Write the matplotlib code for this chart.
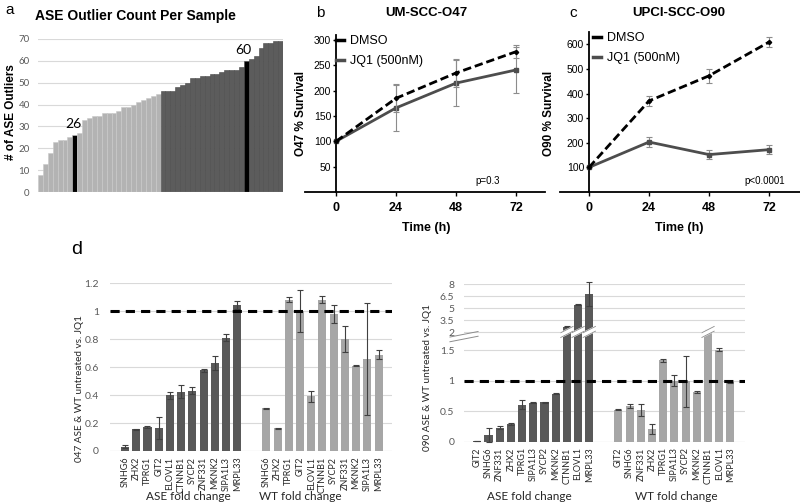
import numpy as np
import matplotlib
matplotlib.use("Agg")
import matplotlib.pyplot as plt
from matplotlib.lines import Line2D
from matplotlib.transforms import blended_transform_factory

W, H = 800, 503
ARIAL = "Liberation Sans"
CALIBRI = "Lato"

# ---- panel a: ASE outlier counts (sorted) ----
ase_counts_light = [8, 13, 18, 23, 24, 24, 25, 26, 27, 33, 34, 35, 35, 36, 36, 36, 37,
                    39, 39, 40, 41, 42, 43, 44, 45]
ase_counts_dark = [46, 46, 46, 48, 49, 50, 52, 52, 53, 53, 54, 54, 55, 56, 56, 56, 57,
                   60, 61, 62, 66, 68, 68, 69, 69]
highlight_light = 7    # O47 -> 26
highlight_dark = 17    # O90 -> 60

# ---- panel b / c: survival ----
hours = [0, 24, 48, 72]
o47_dmso = [100, 185, 235, 277]
o47_dmso_err = [0, 28, 27, 13]
o47_jq1 = [100, 166, 215, 241]
o47_jq1_err = [0, 46, 45, 45]
o90_dmso = [100, 370, 472, 609]
o90_dmso_err = [0, 20, 28, 20]
o90_jq1 = [100, 203, 152, 172]
o90_jq1_err = [0, 20, 17, 17]

# ---- panel d left: 047 fold change ----
o47_ase_genes = ["SNHG6", "ZHX2", "TPRG1", "GIT2", "ELOVL1", "CTNNB1", "SYCP2",
                 "ZNF331", "MKNK2", "SIPA1L3", "MRPL33"]
o47_ase_vals = [0.031, 0.155, 0.17, 0.165, 0.40, 0.425, 0.43, 0.577, 0.627, 0.81, 1.043]
o47_ase_err = [0.01, 0.005, 0.006, 0.08, 0.025, 0.047, 0.025, 0.01, 0.05, 0.025, 0.03]
o47_wt_genes = o47_ase_genes
o47_wt_vals = [0.306, 0.163, 1.084, 1.0, 0.39, 1.084, 0.983, 0.80, 0.61, 0.658, 0.69]
o47_wt_err = [0.005, 0.004, 0.015, 0.15, 0.04, 0.025, 0.065, 0.095, 0.005, 0.4, 0.033]

# ---- panel d right: 090 fold change ----
o90_genes = ["GIT2", "SNHG6", "ZNF331", "ZHX2", "TPRG1", "SIPA1L3", "SYCP2",
             "MKNK2", "CTNNB1", "ELOVL1", "MRPL33"]
o90_ase_vals = [0.005, 0.11, 0.23, 0.29, 0.607, 0.64, 0.645, 0.787, 2.67, 5.42, 6.8]
o90_ase_err = [0.0, 0.11, 0.02, 0.02, 0.07, 0.005, 0.01, 0.01, 0.05, 0.05, 1.5]
o90_wt_vals = [0.524, 0.588, 0.524, 0.214, 1.33, 1.0, 0.99, 0.818, 2.2, 1.508, 0.963]
o90_wt_err = [0.005, 0.03, 0.1, 0.08, 0.02, 0.09, 0.42, 0.015, 0.02, 0.03, 0.01]
o90_ticks = [0, 0.5, 1, 1.5, 2, 3.5, 5, 6.5, 8]

DARK = "#595959"
LIGHT = "#a6a6a6"


def rect(left, top, right, bottom):
    return [left / W, 1 - bottom / H, (right - left) / W, (bottom - top) / H]


fig = plt.figure(figsize=(8, 5.03), dpi=100)

# ================= panel a =================
ax = fig.add_axes(rect(38, 39, 283, 192))
n1, n2 = len(ase_counts_light), len(ase_counts_dark)
x1 = np.arange(n1)
x2 = np.arange(n1, n1 + n2)
c1 = ["black" if i == highlight_light else "#b3b3b3" for i in range(n1)]
c2 = ["black" if i == highlight_dark else "#5c5c5c" for i in range(n2)]
ax.bar(x1, ase_counts_light, width=1.0, color=c1, edgecolor="#c9c9c9", linewidth=0.4, zorder=2)
ax.bar(x2, ase_counts_dark, width=1.0, color=c2, edgecolor="#4a4a4a", linewidth=0.4, zorder=2)
ax.text(x1[highlight_light] - 0.3, ase_counts_light[highlight_light] + 2.5,
        str(ase_counts_light[highlight_light]), ha="center", va="bottom",
        fontsize=10, family=CALIBRI)
ax.text(x2[highlight_dark] - 0.5, ase_counts_dark[highlight_dark] + 2,
        str(ase_counts_dark[highlight_dark]), ha="center", va="bottom",
        fontsize=10, family=CALIBRI)
ax.set_xlim(-0.5, n1 + n2 - 0.5)
ax.set_ylim(0, 70)
ax.set_yticks(range(0, 71, 10))
ax.yaxis.grid(True, color="#d9d9d9", linewidth=0.8, zorder=0)
ax.set_axisbelow(True)
ax.set_xticks([])
ax.tick_params(axis="y", length=0, labelsize=7, labelcolor="#595959", pad=6)
for lab in ax.get_yticklabels():
    lab.set_family(CALIBRI)
for s in ax.spines.values():
    s.set_visible(False)
ax.axhline(0, color="#d9d9d9", linewidth=0.8, zorder=3)
fig.text(11 / W, 1 - 112 / H, "# of ASE Outliers", rotation=90, ha="center", va="center",
         fontsize=8.5, fontweight="bold", family=ARIAL)
fig.text(35 / W, 1 - 16 / H, "ASE Outlier Count Per Sample", ha="left", va="center",
         fontsize=10, fontweight="bold", family=ARIAL)
fig.text(5 / W, 1 - 10 / H, "a", ha="left", va="center", fontsize=11, family=ARIAL)


# ================= panels b / c =================
def survival(box, xlim, ylim, yticks, dmso, dmso_err, jq1, jq1_err, ylabel, ylab_x,
             title, title_x, letter, letter_x, pval, pval_x, xlab_x, leg_x):
    ax = fig.add_axes(rect(*box))
    ax.errorbar(hours, jq1, yerr=jq1_err, color="#4d4d4d", lw=2.0, ecolor="#8c8c8c",
                elinewidth=0.8, capsize=2, capthick=0.8, marker="s", ms=2.5, zorder=3)
    ax.errorbar(hours, dmso, yerr=dmso_err, color="black", lw=2.0, ls=(0, (3, 1.4)),
                ecolor="#8c8c8c", elinewidth=0.8, capsize=2, capthick=0.8,
                marker="D", ms=2.2, zorder=4)
    ax.set_xlim(*xlim)
    ax.set_ylim(*ylim)
    ax.set_xticks(hours)
    ax.set_yticks(yticks)
    ax.spines["left"].set_position(("data", 0))
    ax.spines["top"].set_visible(False)
    ax.spines["right"].set_visible(False)
    ax.spines["left"].set_linewidth(1.3)
    ax.spines["bottom"].set_linewidth(1.3)
    ax.tick_params(axis="y", length=2.5, width=1, labelsize=7.5, pad=1)
    ax.tick_params(axis="x", length=3, width=1, labelsize=9, pad=4)
    for lab in ax.get_xticklabels():
        lab.set_fontweight("bold")
        lab.set_family(ARIAL)
    for lab in ax.get_yticklabels():
        lab.set_family(ARIAL)
    handles = [Line2D([], [], color="black", lw=2.5, ls="-"),
               Line2D([], [], color="#4d4d4d", lw=2.5)]
    ax.legend(handles, ["DMSO", "JQ1 (500nM)"], loc="upper left",
              bbox_to_anchor=((leg_x - box[0]) / (box[2] - box[0]), 1.07),
              frameon=False, handlelength=0.6, handletextpad=0.5, labelspacing=0.65,
              prop={"family": ARIAL, "size": 9})
    ax.text(pval_x, 0.07, pval, transform=blended_transform_factory(fig.transFigure, ax.transAxes),
            ha="center", va="center", fontsize=7, family=ARIAL)
    fig.text(ylab_x / W, 1 - 113 / H, ylabel, rotation=90, ha="center", va="center",
             fontsize=8.5, fontweight="bold", family=ARIAL)
    fig.text(title_x / W, 1 - 13 / H, title, ha="center", va="center",
             fontsize=9.5, fontweight="bold", family=ARIAL)
    fig.text(letter_x / W, 1 - 13 / H, letter, ha="center", va="center",
             fontsize=11, family=ARIAL)
    fig.text(xlab_x / W, 1 - 228 / H, "Time (h)", ha="center", va="center",
             fontsize=9, fontweight="bold", family=ARIAL)


survival((305, 35, 545, 192), (-12.4, 83.6), (0, 310), range(50, 301, 50),
         o47_dmso, o47_dmso_err, o47_jq1, o47_jq1_err, "O47 % Survival", 301,
         "UM-SCC-O47", 426, "b", 320, "p=0.3", 488 / W, 426, 325)
survival((560, 32, 800, 192), (-11.6, 84.4), (0, 650), range(100, 601, 100),
         o90_dmso, o90_dmso_err, o90_jq1, o90_jq1_err, "O90 % Survival", 549,
         "UPCI-SCC-O90", 679, "c", 573, "p<0.0001", 765 / W, 679, 582)


# ================= panel d =================
def fold_panel(ax, ase_genes, ase_vals, ase_err, wt_genes, wt_vals, wt_err, offset):
    xa = np.arange(len(ase_genes))
    xw = np.arange(len(wt_genes)) + offset
    ekw = dict(ecolor="#404040", elinewidth=0.8, capsize=2.2, capthick=0.8, clip_on=False)
    ax.bar(xa, ase_vals, width=0.72, color=DARK, yerr=ase_err, error_kw=ekw, zorder=2)
    ax.bar(xw, wt_vals, width=0.72, color=LIGHT, yerr=wt_err, error_kw=ekw, zorder=2)
    ax.axhline(1, color="black", lw=2.2, ls=(0, (3, 2)), zorder=4)
    ax.set_xticks(np.concatenate([xa, xw]))
    ax.set_xticklabels(list(ase_genes) + list(wt_genes), rotation=90, fontsize=6.5,
                       family=CALIBRI, color="#262626")
    ax.tick_params(axis="x", length=0, pad=4)
    ax.tick_params(axis="y", length=0, labelsize=7.5, labelcolor="#595959", pad=8)
    ax.yaxis.grid(True, color="#d9d9d9", linewidth=0.8, zorder=0)
    ax.set_axisbelow(True)
    for s in ax.spines.values():
        s.set_visible(False)
    ax.axhline(0, color="#d9d9d9", lw=0.8, zorder=1)
    return xa, xw


gap = 12.6
axl = fig.add_axes(rect(110, 283.3, 392, 451))
fold_panel(axl, o47_ase_genes, o47_ase_vals, o47_ase_err, o47_wt_genes, o47_wt_vals,
           o47_wt_err, gap)
axl.set_xlim(-1.34, 23.8)
axl.set_ylim(0, 1.2)
axl.set_yticks([0, 0.2, 0.4, 0.6, 0.8, 1, 1.2])
axl.set_yticklabels(["0", "0.2", "0.4", "0.6", "0.8", "1", "1.2"])
for lab in axl.get_yticklabels():
    lab.set_family(CALIBRI)

# broken axis for 090 via a piecewise linear scale
brk_in = [-1, 0, 1.7, 2, 10]
brk_out = [-1, 0, 1.7, 1.793, 1.793 + 8 * 0.1305]


def fwd(y):
    return np.interp(y, brk_in, brk_out)


def inv(y):
    return np.interp(y, brk_out, brk_in)


axr = fig.add_axes(rect(464, 284.3, 745, 441.7))
axr.set_yscale("function", functions=(fwd, inv))
xa, xw = fold_panel(axr, o90_genes, o90_ase_vals, o90_ase_err, o90_genes, o90_wt_vals,
                    o90_wt_err, gap)
axr.set_xlim(-1.19, 23.9)
axr.set_ylim(0, 8)
axr.set_yticks(o90_ticks)
axr.set_yticklabels(["0", "0.5", "1", "1.5", "2", "3.5", "5", "6.5", "8"])
axr.tick_params(axis="y", pad=7)
for lab in axr.get_yticklabels():
    lab.set_family(CALIBRI)

# break marks: white slashes across bars that pass the break, and on the axis
bt = blended_transform_factory(axr.transData, axr.transAxes)
y_lo = fwd(1.72) / fwd(8)
tall = [x for x, v in zip(list(xa) + list(xw), o90_ase_vals + o90_wt_vals) if v > 2]
for x in tall:
    xs = [x - 0.55, x + 0.55, x + 0.55, x - 0.55]
    ys = [y_lo, y_lo + 0.04, y_lo + 0.04 + 0.03, y_lo + 0.03]
    axr.fill(xs, ys, color="white", transform=bt, zorder=5, clip_on=False)
    axr.plot([x - 0.55, x + 0.55], [y_lo, y_lo + 0.04], color="#8c8c8c", lw=0.6,
             transform=bt, zorder=6, clip_on=False)
    axr.plot([x - 0.55, x + 0.55], [y_lo + 0.03, y_lo + 0.07], color="#8c8c8c", lw=0.6,
             transform=bt, zorder=6, clip_on=False)
for dy in (0.0, 0.03):
    axr.plot([-0.05, 0.05], [0.635 + dy, 0.67 + dy], color="#8c8c8c", lw=0.7,
             transform=axr.transAxes, clip_on=False, zorder=6)

fig.text(79 / W, 1 - 389 / H, "047 ASE & WT untreated vs. JQ1", rotation=90, ha="center",
         va="center", fontsize=7.2, family=CALIBRI, color="#262626")
fig.text(428 / W, 1 - 378 / H, "090 ASE & WT untreated vs. JQ1", rotation=90, ha="center",
         va="center", fontsize=7.2, family=CALIBRI, color="#262626")
fig.text(188 / W, 1 - 496 / H, "ASE fold change", ha="center", va="center", fontsize=8.5,
         family=CALIBRI, color="#262626")
fig.text(300 / W, 1 - 496 / H, "WT fold change", ha="center", va="center", fontsize=8.5,
         family=CALIBRI, color="#262626")
fig.text(529 / W, 1 - 497 / H, "ASE fold change", ha="center", va="center", fontsize=8.5,
         family=CALIBRI, color="#262626")
fig.text(676 / W, 1 - 496 / H, "WT fold change", ha="center", va="center", fontsize=8.5,
         family=CALIBRI, color="#262626")
fig.text(77 / W, 1 - 249 / H, "d", ha="center", va="center", fontsize=14, family=ARIAL)

fig.savefig("out.png", dpi=100)
